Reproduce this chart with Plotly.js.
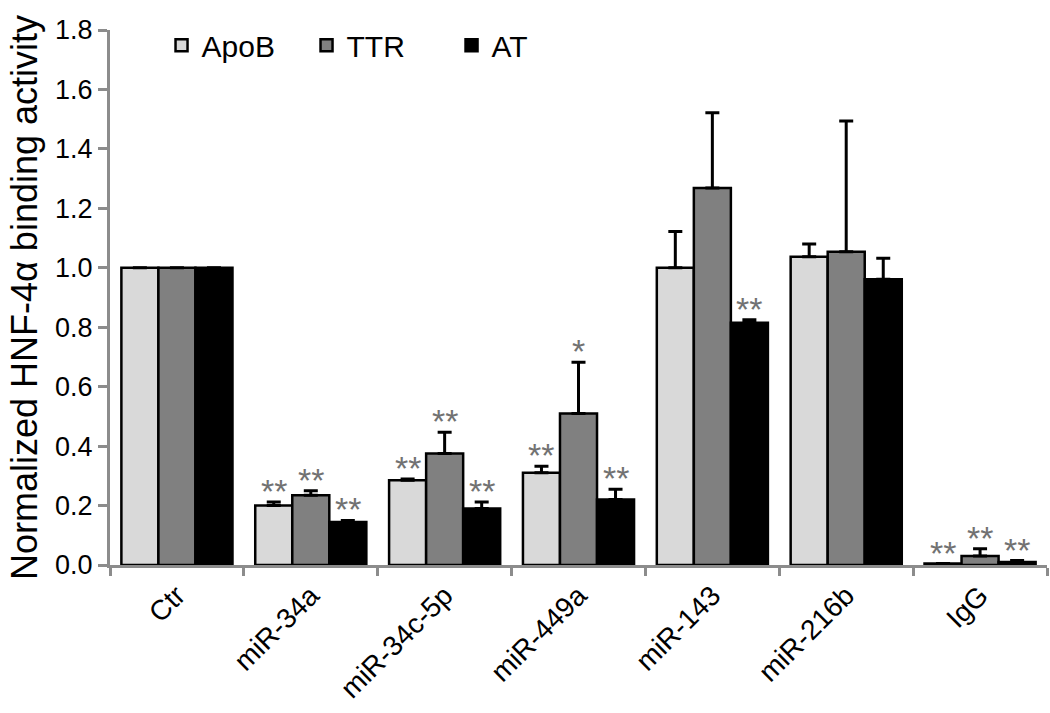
<!DOCTYPE html>
<html>
<head>
<meta charset="utf-8">
<script src="https://cdn.plot.ly/plotly-3.0.1.min.js"></script>
<style>html,body{margin:0;padding:0;background:#fff;}#chart{width:1050px;height:713px;}</style>
</head>
<body>
<div id="chart"></div>
<script>
const categories = ["Ctr", "miR-34a", "miR-34c-5p", "miR-449a", "miR-143", "miR-216b", "IgG"];
const seriesNames = ["ApoB", "TTR", "AT"];
const apoB = [1.0, 0.20, 0.285, 0.31, 1.0, 1.037, 0.005];
const apoBErr = [0, 0.012, 0.004, 0.022, 0.122, 0.043, 0.0];
const ttr = [1.0, 0.235, 0.375, 0.51, 1.268, 1.054, 0.03];
const ttrErr = [0, 0.015, 0.072, 0.172, 0.254, 0.44, 0.025];
const at = [1.0, 0.145, 0.19, 0.22, 0.815, 0.961, 0.01];
const atErr = [0, 0.005, 0.022, 0.035, 0.01, 0.071, 0.005];
const apoBSig = ["", "**", "**", "**", "", "", "**"];
const ttrSig = ["", "**", "**", "*", "", "", "**"];
const atSig = ["", "**", "**", "**", "**", "", "**"];

const colors = ["#d9d9d9", "#808080", "#000000"];
const vals = [apoB, ttr, at];
const errs = [apoBErr, ttrErr, atErr];
const sigs = [apoBSig, ttrSig, atSig];

const traces = vals.map((v, i) => ({
  type: "bar",
  name: seriesNames[i],
  x: categories,
  y: v,
  marker: {color: colors[i], line: {color: "#000", width: 2.5}},
  error_y: {type: "data", symmetric: false, array: errs[i], arrayminus: errs[i].map(() => 0),
            color: "#000", thickness: 3, width: 7}
}));

const offsets = [-0.277, 0, 0.277];
const annotations = [];
sigs.forEach((s, i) => {
  s.forEach((t, j) => {
    if (!t) return;
    annotations.push({
      x: j + offsets[i], y: vals[i][j] + errs[i][j], xref: "x", yref: "y",
      text: t, showarrow: false, yanchor: "middle", yshift: 11,
      font: {family: "Liberation Sans, Arial, sans-serif", size: 34, color: "#727272"}
    });
  });
});

const layout = {
  width: 1050, height: 713,
  margin: {l: 110, r: 3, t: 30, b: 148},
  paper_bgcolor: "#fff", plot_bgcolor: "#fff",
  font: {family: "Liberation Sans, Arial, sans-serif", color: "#000"},
  barmode: "group", bargap: 0.17, bargroupgap: 0,
  showlegend: true,
  legend: {orientation: "h", x: 0.055, y: 1.02, xanchor: "left", yanchor: "top",
           entrywidth: 100, entrywidthmode: "pixels",
           font: {size: 30, color: "#000"}, bgcolor: "rgba(0,0,0,0)"},
  xaxis: {
    type: "category", showline: true, linecolor: "#8c8c8c", linewidth: 3,
    ticks: "outside", tickson: "boundaries", ticklen: 8, tickwidth: 3, tickcolor: "#8c8c8c",
    tickangle: -45, tickfont: {size: 28, color: "#000"}, showgrid: false, zeroline: false
  },
  yaxis: {
    range: [0, 1.8], dtick: 0.2, tickformat: ".1f", showline: true, linecolor: "#8c8c8c", linewidth: 3,
    ticks: "outside", ticklen: 9, tickwidth: 3, tickcolor: "#8c8c8c",
    tickfont: {size: 27, color: "#000"}, showgrid: false, zeroline: false,
    title: {text: "Normalized HNF-4α binding activity", font: {size: 36, color: "#000"}, standoff: 7}
  },
  annotations: annotations
};

Plotly.newPlot("chart", traces, layout, {displayModeBar: false, staticPlot: true});
</script>
</body>
</html>
